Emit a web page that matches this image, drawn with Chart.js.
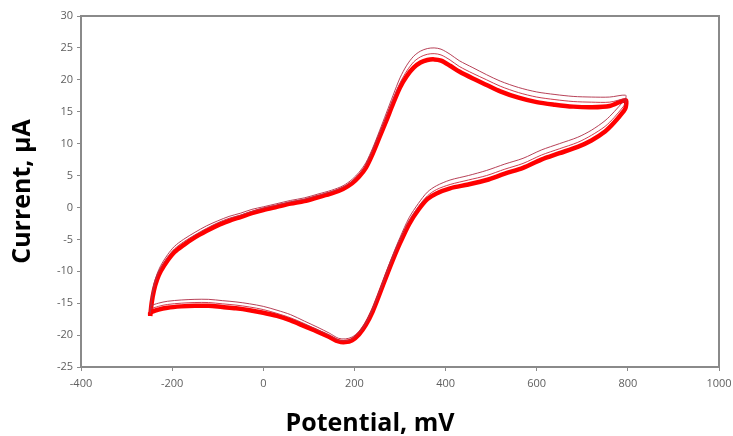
<!DOCTYPE html>
<html>
<head>
<meta charset="utf-8">
<script src="https://cdn.jsdelivr.net/npm/chart.js@4/dist/chart.umd.min.js"></script>
<style>
  html, body { margin: 0; padding: 0; background: #fff; }
  #wrap { width: 733px; height: 436px; }
</style>
</head>
<body>
<div id="wrap"><canvas id="cv-chart"></canvas></div>
<script>
// forward scan potentials (mV) and currents (uA) for three cycles
const fwdE = [-248, -245, -240, -233, -225, -210, -195, -175, -150, -125, -100, -75, -50, -25, 0, 30, 60, 90, 120, 150, 175, 195, 210, 225, 240, 255, 270, 285, 300, 315, 330, 345, 360, 375, 390, 410, 430, 460, 490, 520, 560, 600, 640, 680, 720, 760, 795];
const fwdMain = [-17.0, -15.0, -13.0, -11.3, -10.0, -8.3, -7.0, -5.9, -4.7, -3.7, -2.8, -2.1, -1.5, -0.9, -0.4, 0.1, 0.6, 1.0, 1.6, 2.2, 2.9, 3.8, 4.8, 6.2, 8.4, 11.0, 13.6, 16.3, 18.8, 20.6, 21.9, 22.7, 23.1, 23.2, 23.0, 22.2, 21.3, 20.2, 19.2, 18.2, 17.2, 16.5, 16.1, 15.8, 15.7, 15.9, 16.8];
const fwdA = [-16.2, -14.0, -12.0, -10.4, -9.1, -7.4, -6.1, -5.0, -3.9, -2.9, -2.1, -1.4, -0.9, -0.3, 0.1, 0.6, 1.1, 1.5, 2.1, 2.7, 3.4, 4.4, 5.5, 7.0, 9.3, 12.0, 14.8, 17.6, 20.3, 22.3, 23.7, 24.5, 24.9, 25.0, 24.8, 24.0, 23.0, 21.9, 20.8, 19.8, 18.8, 18.1, 17.7, 17.4, 17.3, 17.3, 17.6];
const fwdB = [-16.6, -14.5, -12.5, -10.8, -9.5, -7.8, -6.5, -5.4, -4.3, -3.3, -2.4, -1.7, -1.2, -0.6, -0.1, 0.4, 0.9, 1.3, 1.9, 2.5, 3.2, 4.1, 5.2, 6.6, 8.9, 11.5, 14.2, 17.0, 19.5, 21.4, 22.8, 23.6, 24.0, 24.1, 23.9, 23.1, 22.1, 21.0, 20.0, 19.0, 18.0, 17.3, 16.9, 16.6, 16.5, 16.5, 17.0];

// reverse scan
const revE = [795, 790, 770, 750, 720, 690, 650, 610, 570, 530, 490, 450, 410, 380, 360, 340, 320, 300, 285, 270, 255, 240, 225, 210, 195, 180, 165, 145, 120, 90, 60, 30, 0, -30, -60, -90, -120, -150, -180, -210, -230, -248];
const revMain = [15.6, 15.0, 13.3, 11.9, 10.5, 9.5, 8.5, 7.5, 6.2, 5.3, 4.3, 3.6, 3.0, 2.2, 1.3, -0.4, -2.6, -5.6, -8.1, -10.8, -13.6, -16.3, -18.4, -19.9, -20.8, -21.1, -21.0, -20.3, -19.5, -18.6, -17.7, -17.0, -16.5, -16.1, -15.8, -15.6, -15.4, -15.4, -15.5, -15.7, -16.0, -16.5];
const revA = [17.0, 16.6, 15.0, 13.6, 12.1, 11.0, 10.0, 9.0, 7.7, 6.8, 5.8, 5.0, 4.3, 3.4, 2.4, 0.6, -1.6, -4.7, -7.3, -10.1, -13.0, -15.7, -17.9, -19.4, -20.3, -20.6, -20.5, -19.7, -18.8, -17.8, -16.8, -16.1, -15.5, -15.1, -14.8, -14.6, -14.4, -14.4, -14.5, -14.7, -15.0, -15.5];
const revB = [16.3, 15.8, 14.1, 12.7, 11.3, 10.2, 9.2, 8.2, 6.9, 6.0, 5.0, 4.3, 3.6, 2.8, 1.8, 0.1, -2.1, -5.2, -7.7, -10.5, -13.3, -16.0, -18.2, -19.7, -20.6, -20.9, -20.8, -20.0, -19.2, -18.2, -17.3, -16.6, -16.0, -15.6, -15.3, -15.1, -14.9, -14.9, -15.0, -15.2, -15.5, -16.0];

const xTitle = "Potential, mV";
const yTitle = "Current, µA";

function loop(fwd, rev) {
  const pts = fwdE.map((x, i) => ({ x: x, y: fwd[i] }));
  revE.forEach((x, i) => pts.push({ x: x, y: rev[i] }));
  pts.push(pts[0]);
  return pts;
}

function cycle(fwd, rev, color, width) {
  return {
    data: loop(fwd, rev),
    showLine: true,
    borderColor: color,
    borderWidth: width,
    pointRadius: 0,
    tension: 0.3,
    fill: false
  };
}

// gray box round the plot area, and the x title (sits left of centre in the original)
const frame = {
  id: "frame",
  afterDraw(chart) {
    const a = chart.chartArea;
    const ctx = chart.ctx;
    ctx.save();
    ctx.strokeStyle = "#8a8a8a";
    ctx.lineWidth = 2;
    ctx.strokeRect(a.left, a.top, a.right - a.left, a.bottom - a.top);
    ctx.fillStyle = "#000";
    ctx.font = "bold 25px 'Open Sans'";
    ctx.textAlign = "center";
    ctx.textBaseline = "alphabetic";
    ctx.fillText(xTitle, 370, 431);
    ctx.restore();
  }
};

const tickFont = { family: "Open Sans", size: 11 };
const titleFont = { family: "Open Sans", size: 25, weight: "bold" };

new Chart(document.querySelector("#cv-chart").getContext("2d"), {
  type: "scatter",
  data: {
    datasets: [
      cycle(fwdA, revA, "rgba(175, 45, 70, 0.9)", 1),
      cycle(fwdB, revB, "rgba(200, 40, 60, 0.9)", 1),
      cycle(fwdMain, revMain, "#ff0000", 4.5)
    ]
  },
  options: {
    responsive: true,
    maintainAspectRatio: false,
    animation: false,
    layout: { padding: { top: 16, right: 14, left: 0, bottom: 0 } },
    plugins: { legend: { display: false }, tooltip: { enabled: false } },
    scales: {
      x: {
        min: -400,
        max: 1000,
        afterFit: (s) => { s.height = 69; s.paddingRight = 0; s.paddingLeft = 0; },
        ticks: { stepSize: 200, color: "#606060", font: tickFont, padding: 6, callback: (v) => String(v) },
        grid: { drawOnChartArea: false, tickLength: 4, color: "#8a8a8a" },
        border: { color: "#8a8a8a", width: 2 }
      },
      y: {
        min: -25,
        max: 30,
        afterFit: (s) => { s.width = 81; },
        ticks: { stepSize: 5, color: "#606060", font: tickFont, padding: 4, callback: (v) => String(v) },
        grid: { drawOnChartArea: false, tickLength: 4, color: "#8a8a8a" },
        border: { color: "#8a8a8a", width: 2 },
        title: { display: true, text: yTitle, color: "#000", font: titleFont, padding: { top: 8, bottom: 0 } }
      }
    }
  },
  plugins: [frame]
});
</script>
</body>
</html>
